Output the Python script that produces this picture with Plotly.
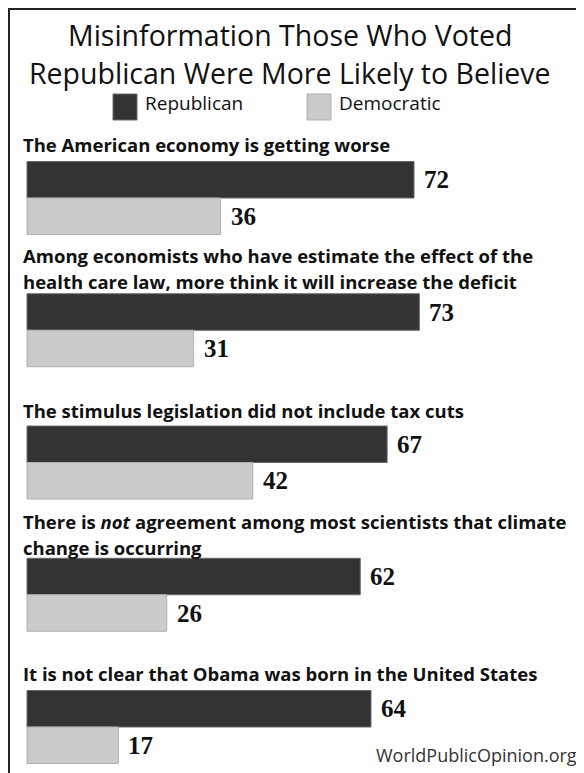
import plotly.graph_objects as go

# ---- data ----
statements = [
    "The American economy is getting worse",
    "Among economists who have estimate the effect of the<br>health care law, more think it will increase the deficit",
    "The stimulus legislation did not include tax cuts",
    "There is <i>not</i> agreement among most scientists that climate<br>change is occurring",
    "It is not clear that Obama was born in the United States",
]
republican = [72, 73, 67, 62, 64]
democratic = [36, 31, 42, 26, 17]
series_names = ["Republican", "Democratic"]
title_lines = ["Misinformation Those Who Voted", "Republican Were More Likely to Believe"]
source = "WorldPublicOpinion.org"

# ---- styles / layout (the page body adds an 8px margin) ----
W, H = 576, 765
DARK = "#333333"
LIGHT = "#cbcbcb"
SANS = "'Open Sans', 'Noto Sans', sans-serif"
SERIF = "'Liberation Serif', 'DejaVu Serif', serif"
BAR_W = 0.276
last_line_offset = [17, 12, 16, 11, 17]   # px above bar top (centre of last label line)
LINE_STEP = 26

px_per_unit = 5.375
x0_px = 19
g0_px, g_step = 190, 132.25

pos = list(range(len(statements)))

fig = go.Figure()
fig.add_trace(go.Bar(
    y=pos, x=republican, orientation="h", name=series_names[0],
    width=BAR_W, offset=-BAR_W,
    marker=dict(color=DARK, line=dict(color="#6a6a6a", width=1)),
    showlegend=False, hoverinfo="x",
))
fig.add_trace(go.Bar(
    y=pos, x=democratic, orientation="h", name=series_names[1],
    width=BAR_W, offset=0,
    marker=dict(color=LIGHT, line=dict(color="#b0b0b0", width=1)),
    showlegend=False, hoverinfo="x",
))

ann = []
for i, (s, r, d) in enumerate(zip(statements, republican, democratic)):
    lines = s.split("<br>")
    n = len(lines)
    for k, ln in enumerate(lines):
        ann.append(dict(x=0, y=i - BAR_W, xref="x", yref="y", text="<b>%s</b>" % ln,
                        xanchor="left", yanchor="middle", xshift=-6,
                        yshift=last_line_offset[i] + (n - 1 - k) * LINE_STEP,
                        showarrow=False, align="left",
                        font=dict(family=SANS, size=18.5, color="#111")))
    ann.append(dict(x=r, y=i - BAR_W / 2, xref="x", yref="y", text="<b>%d</b>" % r,
                    xanchor="left", yanchor="middle", xshift=8, showarrow=False,
                    font=dict(family=SERIF, size=25, color="#111")))
    ann.append(dict(x=d, y=i + BAR_W / 2, xref="x", yref="y", text="<b>%d</b>" % d,
                    xanchor="left", yanchor="middle", xshift=8, showarrow=False,
                    font=dict(family=SERIF, size=25, color="#111")))

# title
for k, (t, yc) in enumerate(zip(title_lines, [27, 65])):
    ann.append(dict(x=282 / W, y=1 - yc / H, xref="paper", yref="paper",
                    text=t, xanchor="center", yanchor="middle", showarrow=False,
                    font=dict(family=SANS, size=28.5, color="#111", weight=500)))

# legend
legend_items = [(105, DARK, "#6a6a6a", series_names[0]), (299, LIGHT, "#b0b0b0", series_names[1])]
shapes = []
for lx, fc, lc, name in legend_items:
    shapes.append(dict(type="rect", xref="paper", yref="paper",
                       x0=lx / W, x1=(lx + 24) / W, y0=1 - 112 / H, y1=1 - 86 / H,
                       fillcolor=fc, line=dict(color=lc, width=1)))
    ann.append(dict(x=(lx + 30) / W, y=1 - 95 / H, xref="paper", yref="paper",
                    text=name, xanchor="left", yanchor="middle", showarrow=False,
                    font=dict(family=SANS, size=19, color="#111")))

# source
ann.append(dict(x=571 / W, y=1 - 747 / H, xref="paper", yref="paper",
                text=source, xanchor="right", yanchor="middle",
                showarrow=False, font=dict(family=SANS, size=18, color="#333")))

# frame (top and left lines)
shapes.append(dict(type="line", xref="paper", yref="paper", x0=0, x1=1, y0=1 - 1 / H, y1=1 - 1 / H,
                   line=dict(color="#222", width=2)))
shapes.append(dict(type="line", xref="paper", yref="paper", x0=1 / W, x1=1 / W, y0=0, y1=1,
                   line=dict(color="#222", width=2)))

fig.update_layout(
    width=W, height=H,
    margin=dict(l=0, r=0, t=0, b=0),
    paper_bgcolor="white", plot_bgcolor="white",
    xaxis=dict(range=[-x0_px / px_per_unit, (W - x0_px) / px_per_unit],
               visible=False, fixedrange=True),
    yaxis=dict(range=[(H - g0_px) / g_step, -g0_px / g_step],
               visible=False, fixedrange=True),
    annotations=ann, shapes=shapes,
    barmode="overlay",
)

fig.write_html("out.html")
